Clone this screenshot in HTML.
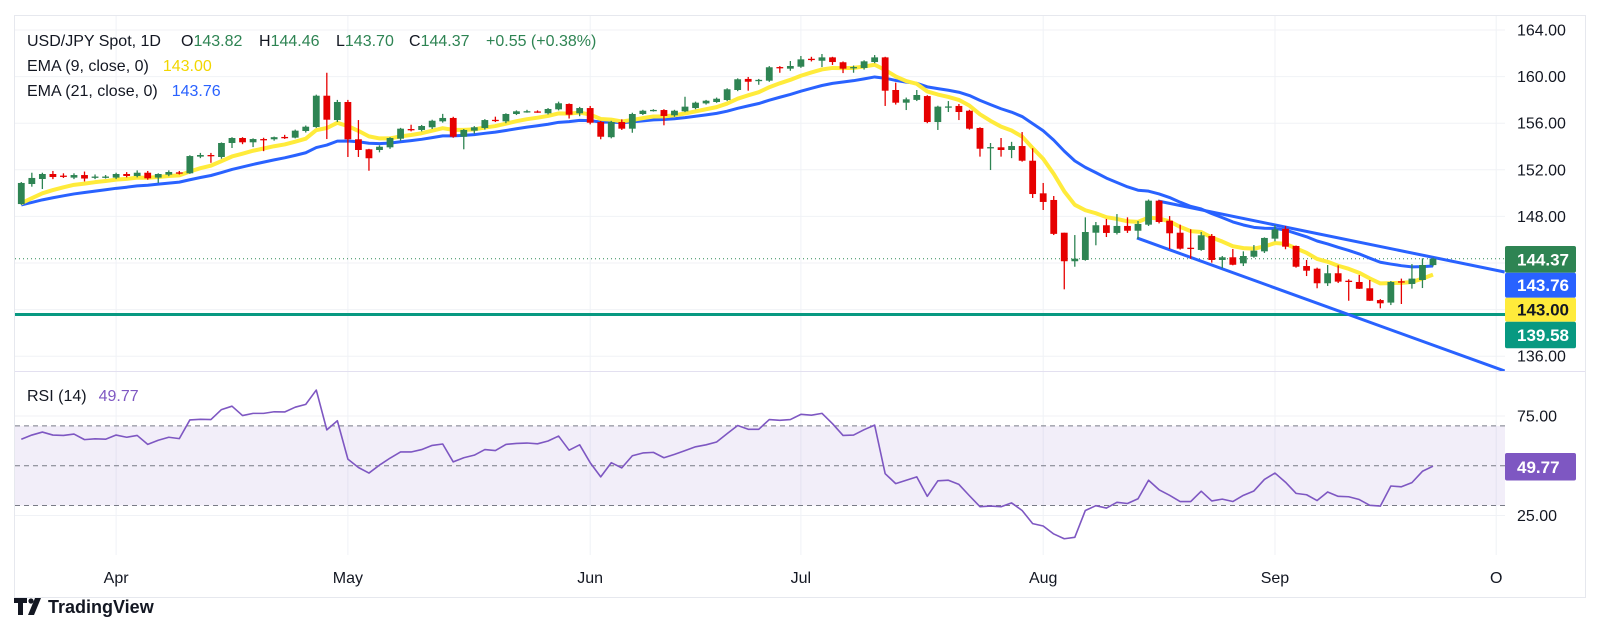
<!DOCTYPE html>
<html><head><meta charset="utf-8">
<style>
html,body{margin:0;padding:0;background:#fff;}
body{width:1601px;height:644px;overflow:hidden;position:relative;font-family:"Liberation Sans",sans-serif;}
svg{position:absolute;left:0;top:0;}
text{font-family:"Liberation Sans",sans-serif;}
</style></head>
<body>
<svg id="chart" width="1601" height="644" viewBox="0 0 1601 644"></svg>
<script>
// ---- data ----
const opens=[149.06,150.78,151.21,151.64,151.5,151.33,151.55,151.38,151.4,151.33,
151.64,151.47,151.75,151.33,151.58,151.78,151.70,153.13,153.27,153.1,
154.3,154.73,154.36,154.64,154.62,154.82,154.76,155.33,155.67,158.36,
156.27,157.82,154.62,153.76,153.7,153.93,154.67,155.5,155.42,155.65,
156.16,156.45,154.84,155.36,155.59,156.29,156.16,156.79,157.0,157.01,
156.85,157.19,157.65,156.85,157.3,156.1,154.8,156.1,155.53,156.79,
157.11,157.13,156.68,157.02,157.3,157.7,157.82,157.99,158.85,159.8,
159.69,159.65,160.82,160.68,160.85,161.53,161.36,161.65,161.23,160.78,
160.74,161.25,161.65,158.85,157.76,158.0,158.33,156.1,157.4,157.48,
157.07,155.59,153.91,153.93,153.7,154.04,152.78,149.98,149.41,146.6,
144.15,144.26,146.6,147.24,146.58,147.18,146.77,147.29,149.35,147.63,
146.6,145.31,145.12,146.32,144.26,144.49,143.97,144.54,145.0,146.09,
146.94,145.46,143.74,143.51,142.26,143.12,142.48,142.37,141.83,140.82,
140.6,142.43,142.2,142.54,143.82];
const highs=[150.95,151.75,151.75,151.9,151.7,151.7,151.85,151.6,151.55,151.75,
151.8,151.95,151.9,151.7,151.95,151.9,153.25,153.45,153.45,154.35,
154.8,154.8,154.7,154.75,154.85,155.0,155.45,155.8,158.45,160.33,
158.0,158.0,156.27,153.8,154.1,154.8,155.6,155.87,155.85,156.3,
156.8,156.55,155.5,155.75,156.35,156.56,156.85,157.1,157.15,157.1,
157.3,157.85,157.7,157.4,157.48,156.2,156.2,156.33,156.9,157.15,
157.2,157.2,157.15,158.27,157.85,158.0,158.2,159.0,159.85,159.97,
159.8,160.9,160.9,161.34,161.77,161.7,161.94,161.7,161.3,160.95,
161.4,161.85,161.7,159.48,158.2,158.85,158.4,157.5,157.9,157.65,
157.15,155.65,154.3,154.73,154.4,155.24,153.85,150.87,149.75,146.6,
146.4,147.92,147.52,147.78,148.2,147.92,147.6,149.45,149.4,148.03,
147.29,146.89,146.66,146.49,144.6,145.2,145.0,145.54,146.2,147.26,
147.18,145.5,144.26,143.6,143.83,143.8,142.6,142.97,142.54,140.9,
142.45,142.66,143.91,144.4,144.46];
const lows=[149.0,150.55,150.35,151.2,151.3,151.2,151.0,151.2,151.25,151.2,
151.35,151.35,151.15,150.87,151.45,151.6,151.65,153.0,152.6,152.95,
153.87,154.2,153.95,153.6,154.5,154.65,154.7,155.2,155.6,154.64,
156.1,153.1,153.1,151.92,153.5,153.8,154.5,155.3,155.3,155.5,
156.05,154.75,153.76,155.1,155.45,156.1,156.0,156.7,156.9,156.9,
156.75,157.1,156.4,156.6,155.9,154.62,154.7,155.42,155.18,156.7,
157.0,155.82,156.55,156.95,157.2,157.6,157.75,157.9,158.75,158.79,
159.3,159.55,160.33,160.5,160.75,161.3,160.82,161.0,160.3,160.33,
160.6,161.15,157.48,157.6,157.13,157.9,156.0,155.42,156.96,156.27,
155.45,153.13,151.98,153.13,153.0,152.7,149.58,148.55,146.4,141.74,
143.68,144.2,145.52,146.23,146.45,146.58,146.06,147.18,147.4,145.2,
145.15,144.37,145.05,144.03,143.55,143.8,143.74,144.45,144.86,145.86,
145.18,143.6,142.88,141.83,142.03,142.28,140.76,141.77,140.74,140.11,
140.39,140.48,141.8,141.85,143.70];
const closes=[150.87,151.30,151.64,151.38,151.45,151.55,151.25,151.42,151.42,151.64,
151.47,151.75,151.27,151.64,151.81,151.74,153.18,153.27,153.24,154.3,
154.73,154.36,154.64,154.60,154.8,154.78,155.36,155.7,158.36,156.3,
157.82,154.62,153.7,152.99,153.98,154.73,155.53,155.46,155.76,156.21,
156.45,154.84,155.42,155.65,156.27,156.25,156.79,157.02,157.03,156.98,
157.22,157.71,156.73,157.3,156.04,154.84,156.1,155.53,156.79,157.07,
157.14,156.62,157.07,157.42,157.76,157.93,158.1,158.91,159.77,159.56,
159.72,160.8,160.78,160.91,161.48,161.49,161.65,161.25,160.68,160.82,
161.31,161.65,158.79,157.76,158.05,158.42,156.1,157.42,157.44,156.96,
155.53,153.81,153.95,153.7,154.04,152.78,149.92,149.24,146.5,144.15,
144.37,146.66,147.24,146.58,147.18,146.77,147.35,149.35,147.52,146.55,
145.23,145.27,146.38,144.26,144.49,143.85,144.6,145.06,146.15,146.89,
145.4,143.68,143.34,142.26,143.12,142.4,142.44,141.79,140.76,140.54,
142.37,142.39,142.66,143.83,144.37];
const rsiValues=[63.3,65.4,66.9,65.4,65.2,65.9,63.1,63.5,63.3,65.4,
64.3,65.2,60.7,62.8,64.3,63.6,73.0,73.3,73.2,78.2,
79.9,75.2,76.3,76.3,77.1,77.0,79.4,80.8,88.0,68.0,
72.6,53.3,49.1,46.3,50.3,53.8,56.9,56.9,58.1,60.2,
60.9,51.9,54.0,55.3,58.1,57.6,60.7,61.2,61.4,61.0,
62.4,64.9,57.8,60.5,51.5,44.4,51.5,48.9,55.0,56.4,
56.7,54.0,55.7,57.6,59.5,60.5,61.9,66.1,70.2,68.3,
68.3,73.2,72.8,73.2,75.8,75.4,76.3,71.1,65.2,65.4,
68.1,70.4,46.0,41.0,42.7,44.4,34.6,42.4,42.7,40.6,
34.9,29.4,29.7,29.4,31.3,27.5,20.9,19.7,15.7,13.3,
14.0,27.5,29.9,28.7,31.6,31.0,33.4,42.7,37.9,35.1,
32.0,32.0,37.2,32.3,33.2,32.0,35.1,37.3,43.1,46.3,
41.7,36.1,35.4,32.5,36.8,34.6,34.4,33.0,30.1,29.7,
39.8,39.4,41.5,47.2,49.77];
const ema9Seed=148.7;
const ema21Seed=148.8;
const monthLabels=['Apr','May','Jun','Jul','Aug','Sep','O'];
const monthIndex=[9,31,54,74,97,119,140];
const priceTicks=[164,160,156,152,148,144,140,136];
const rsiTicks=[75,25];
const rsiLevels=[70,50,30];
const upperTrend=[[107.9,149.32],[140.8,143.23]];
const lowerTrend=[[105.9,146.15],[140.8,134.73]];
const supportLevel=139.58;
const lastPrice=144.37;
const ema9Label='143.00';
const ema21Label='143.76';

// ---- scales ----
const X0=21.3, STEP=10.535;
const PL=15, PR=1505, MT=16, MB=371, RT=372, RB=555;
function xs(i){return X0+i*STEP;}
function ys(p){return 30+(164-p)*11.65;}
function yr(r){return 465.7+(50-r)*1.99;}

const NS='http://www.w3.org/2000/svg';
const svg=document.getElementById('chart');
function mk(tag,attrs,parent){const e=document.createElementNS(NS,tag);for(const k in attrs)e.setAttribute(k,attrs[k]);(parent||svg).appendChild(e);return e;}

// frame
const frame=mk('rect',{x:14.5,y:15.5,width:1571,height:582,fill:'none',stroke:'#e6e8ee','stroke-width':1});



// clip paths
const defs=mk('defs',{});
const cp=mk('clipPath',{id:'mainclip'},defs);mk('rect',{x:PL,y:MT,width:PR-PL,height:MB-MT},cp);
const cp2=mk('clipPath',{id:'rsiclip'},defs);mk('rect',{x:PL,y:RT,width:PR-PL,height:RB-RT},cp2);

// grid
const grid=mk('g',{});


priceTicks.forEach(p=>{mk('line',{x1:PL,x2:PR,y1:ys(p),y2:ys(p),stroke:'#f0f2f6','stroke-width':1},grid);});
rsiTicks.forEach(r=>{mk('line',{x1:PL,x2:PR,y1:yr(r),y2:yr(r),stroke:'#f0f2f6','stroke-width':1},grid);});
monthIndex.forEach(i=>{if(xs(i)<PR)mk('line',{x1:xs(i),x2:xs(i),y1:MT,y2:RB,stroke:'#f0f2f6','stroke-width':1},grid);});
// pane separator
const sep=mk('line',{x1:PL,x2:PR+80,y1:371.5,y2:371.5,stroke:'#e3e0f0','stroke-width':1});



// main pane
const main=mk('g',{'clip-path':'url(#mainclip)'});



// last price dotted
const lp=mk('line',{x1:PL,x2:PR,y1:ys(lastPrice),y2:ys(lastPrice),stroke:'#2f8a57','stroke-width':1,'stroke-dasharray':'1 3'},main);



// support
const sup=mk('line',{x1:PL,x2:PR,y1:ys(supportLevel),y2:ys(supportLevel),stroke:'#089981','stroke-width':3},main);



// EMAs
function ema(seed,n){const k=2/(n+1);let v=seed;return closes.map(c=>{v=v+(c-v)*k;return v;});}
const e21=ema(ema21Seed,21), e9=ema(ema9Seed,9);
const l21=mk('polyline',{points:e21.map((v,i)=>xs(i)+','+ys(v)).join(' '),fill:'none',stroke:'#2962ff','stroke-width':3,'stroke-linejoin':'round'},main);


const l9=mk('polyline',{points:e9.map((v,i)=>xs(i)+','+ys(v)).join(' '),fill:'none',stroke:'#ffeb3b','stroke-width':4,'stroke-linejoin':'round'},main);



// trendlines
const t1=mk('line',{x1:xs(upperTrend[0][0]),y1:ys(upperTrend[0][1]),x2:xs(upperTrend[1][0]),y2:ys(upperTrend[1][1]),stroke:'#2962ff','stroke-width':3},main);


const t2=mk('line',{x1:xs(lowerTrend[0][0]),y1:ys(lowerTrend[0][1]),x2:xs(lowerTrend[1][0]),y2:ys(lowerTrend[1][1]),stroke:'#2962ff','stroke-width':3},main);



// candles
const cg=mk('g',{},main);


for(let i=0;i<closes.length;i++){
  const up=closes[i]>=opens[i];const col=up?'#2e8453':'#e60000';
  const x=xs(i);
  const g=mk('g',{},cg);
  
  
  mk('line',{x1:x,x2:x,y1:ys(highs[i]),y2:ys(lows[i]),stroke:col,'stroke-width':1.3},g);
  const top=ys(Math.max(opens[i],closes[i])),bot=ys(Math.min(opens[i],closes[i]));
  mk('rect',{x:x-3.4,y:top,width:6.8,height:Math.max(1.3,bot-top),fill:col},g);
}

// RSI pane
const rg=mk('g',{'clip-path':'url(#rsiclip)'});


const band=mk('rect',{x:PL,y:yr(rsiLevels[0]),width:PR-PL,height:yr(rsiLevels[2])-yr(rsiLevels[0]),fill:'#7e57c2','fill-opacity':0.1},rg);


rsiLevels.forEach(r=>{
  const l=mk('line',{x1:PL,x2:PR,y1:yr(r),y2:yr(r),stroke:'#787b86','stroke-width':1,'stroke-dasharray':'5 4'},rg);
  
  
});
const rl=mk('polyline',{points:rsiValues.map((v,i)=>xs(i)+','+yr(v)).join(' '),fill:'none',stroke:'#7e57c2','stroke-width':1.6,'stroke-linejoin':'round'},rg);



// axes labels
const ax=mk('g',{'font-size':16,fill:'#131722'});


priceTicks.forEach(p=>{const t=mk('text',{x:1517,y:ys(p)+5.5},ax);t.textContent=p.toFixed(2);});
rsiTicks.forEach(r=>{const t=mk('text',{x:1517,y:yr(r)+5.5},ax);t.textContent=r.toFixed(2);});
const xa=mk('g',{'font-size':16,fill:'#131722','text-anchor':'middle'});


monthLabels.forEach((m,k)=>{const t=mk('text',{x:Math.min(xs(monthIndex[k]),1499),y:583},xa);t.textContent=m;});

// price badges
function badge(name,y0,h,bg,fg,txt){
  const g=mk('g',{});
  
  
  mk('rect',{x:1505,y:y0,width:71,height:h,fill:bg,rx:2},g);
  const t=mk('text',{x:1517,y:y0+h/2+6,'font-size':17,'font-weight':'bold',fill:fg},g);t.textContent=txt;
}
badge('last-price-badge',246,26.7,'#2e8453','#fff',lastPrice.toFixed(2));
badge('ema21-badge',272.7,25,'#2962ff','#fff',ema21Label);
badge('ema9-badge',297.7,24,'#ffeb3b','#131722',ema9Label);
badge('support-badge',321.7,26.6,'#089981','#fff',supportLevel.toFixed(2));
badge('rsi-badge',453,27.5,'#7e57c2','#fff',rsiValues[rsiValues.length-1].toFixed(2));
</script>

<svg width="1601" height="644" style="pointer-events:none">
  <g font-size="16">
    <text x="27" y="46" fill="#131722">USD/JPY Spot, 1D</text>
    <text x="181" y="46" fill="#131722">O<tspan fill="#2e8453">143.82</tspan></text>
    <text x="259" y="46" fill="#131722">H<tspan fill="#2e8453">144.46</tspan></text>
    <text x="336" y="46" fill="#131722">L<tspan fill="#2e8453">143.70</tspan></text>
    <text x="409" y="46" fill="#131722">C<tspan fill="#2e8453">144.37</tspan></text>
    <text x="486" y="46" fill="#2e8453">+0.55 (+0.38%)</text>
    <text x="27" y="71" fill="#131722">EMA (9, close, 0)<tspan dx="14" fill="#f2d600">143.00</tspan></text>
    <text x="27" y="96" fill="#131722">EMA (21, close, 0)<tspan dx="14" fill="#2962ff">143.76</tspan></text>
    <text x="27" y="401" fill="#131722">RSI (14)<tspan dx="12" fill="#7e57c2">49.77</tspan></text>
  </g>
  <g>
    <path d="M14 598 h13 v5 h-4 v12 h-5 v-12 h-4 z" fill="#131722"/>
    <circle cx="31" cy="601" r="2.6" fill="#131722"/>
    <path d="M35 598 h6 l-7 17 h-6 z" fill="#131722"/>
    <text x="48" y="613" font-size="18" font-weight="bold" fill="#131722">TradingView</text>
  </g>
</svg>
</body></html>
